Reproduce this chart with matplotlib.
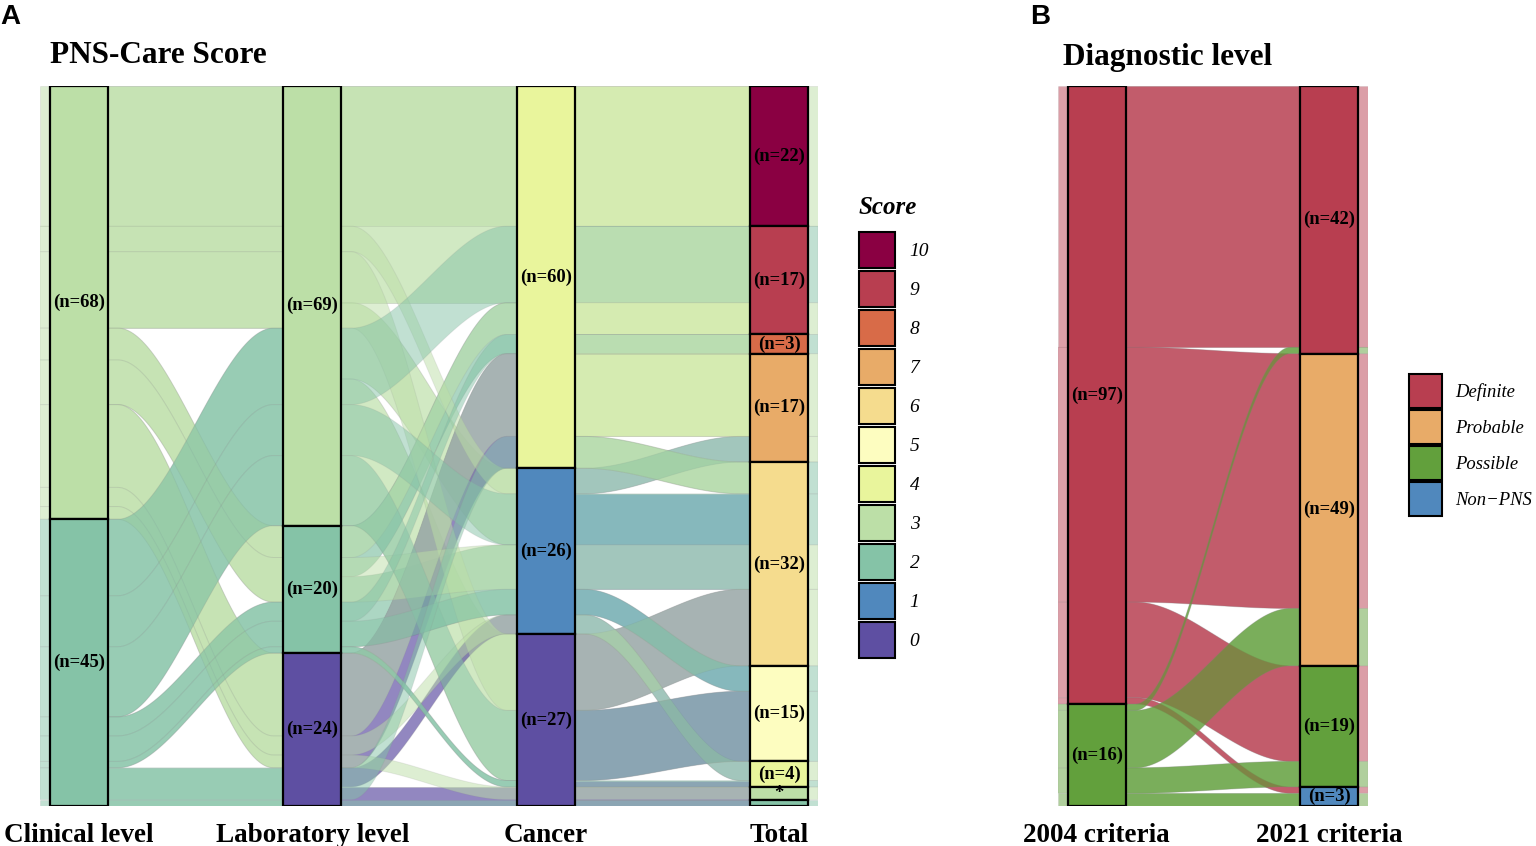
import numpy as np
import matplotlib
matplotlib.use("Agg")
import matplotlib.pyplot as plt
from matplotlib.patches import Rectangle, Polygon, Patch

SERIF = "Liberation Serif"
SANS = "Liberation Sans"

# ---------------- Panel A data ----------------
axis_names_A = ["Clinical level", "Laboratory level", "Cancer", "Total"]
clinical_levels = [3, 2]
lab_levels = [3, 2, 0]
cancer_levels = [4, 1, 0]
score_levels = [10, 9, 8, 7, 6, 5, 4, 3, 2, 1, 0]
score_colors = ["#8a0042", "#b83e50", "#d86b48", "#e8ab68", "#f5dc8e", "#fdfdc0",
                "#e9f59c", "#bcdfa7", "#85c3a7", "#5088bd", "#5e4fa2"]
total_levels = [10, 9, 8, 7, 6, 5, 4, 3, 2]

combo_clinical = [3, 3, 3, 3, 3, 3, 3, 3, 2, 2, 2, 2, 2, 2, 2, 2]
combo_lab      = [3, 3, 3, 2, 2, 0, 0, 0, 3, 3, 3, 2, 2, 2, 0, 0]
combo_cancer   = [4, 1, 0, 4, 1, 4, 1, 0, 4, 1, 0, 4, 1, 0, 4, 0]
combo_count    = [22, 4, 12, 5, 7, 13, 3, 2, 12, 8, 11, 3, 4, 1, 5, 1]

# ---------------- Panel B data ----------------
axis_names_B = ["2004 criteria", "2021 criteria"]
levels_2004 = ["Definite", "Possible"]
levels_2021 = ["Definite", "Probable", "Possible", "Non-PNS"]
diag_colors = {"Definite": "#b83e50", "Probable": "#e8ab68",
               "Possible": "#62a03c", "Non-PNS": "#5088bd"}
legend_labels_B = ["Definite", "Probable", "Possible", "Non\u2212PNS"]
flow_2004 = ["Definite", "Definite", "Definite", "Definite",
             "Possible", "Possible", "Possible", "Possible"]
flow_2021 = ["Definite", "Probable", "Possible", "Non-PNS",
             "Definite", "Probable", "Possible", "Non-PNS"]
flow_count = [41, 40, 15, 1, 1, 9, 4, 2]

WS = 0.25      # stratum width
WA = 1.0 / 3   # alluvium width
FLOW_ALPHA = 0.68
ALLUV_ALPHA = 0.5
EDGE_ALLUV = (0.55, 0.55, 0.55, 0.15)
EDGE_FLOW = (0.55, 0.55, 0.55, 0.25)


def sig(t):
    return t * t * (3 - 2 * t)


def line(segs):
    X, Y = [], []
    for j, (xa, xb, y) in enumerate(segs):
        if j > 0:
            pxa, pxb, py = segs[j - 1]
            t = np.linspace(0, 1, 80)[1:-1]
            X += list(pxb + (xa - pxb) * t)
            Y += list(py + (y - py) * sig(t))
        X += [xa, xb]
        Y += [y, y]
    return np.array(X), np.array(Y)


def band(ax, top_segs, bot_segs, fc, alpha, ec=None, z=1):
    xt, yt = line(top_segs)
    xb, yb = line(bot_segs)
    pts = np.column_stack([np.concatenate([xt, xb[::-1]]),
                           np.concatenate([yt, yb[::-1]])])
    rgba = matplotlib.colors.to_rgba(fc, alpha)
    p = Polygon(pts, closed=True, facecolor=rgba,
                edgecolor=ec if ec is not None else "none",
                linewidth=0.7 if ec is not None else 0, zorder=z)
    ax.add_patch(p)


def zigzag(i, n):
    order = []
    left, right = i - 1, i + 1
    go_left = i <= n - 1 - i
    while left >= 0 or right < n:
        if go_left:
            if left >= 0:
                order.append(left); left -= 1
            if right < n:
                order.append(right); right += 1
        else:
            if right < n:
                order.append(right); right += 1
            if left >= 0:
                order.append(left); left -= 1
    return order


def alluvial(ax, values, levels, counts, stratum_color, alluv_color, label_fs):
    n_ax = len(values)
    n_al = len(counts)
    rank = [{s: r for r, s in enumerate(lv)} for lv in levels]
    ytop = np.zeros((n_ax, n_al))
    ybot = np.zeros((n_ax, n_al))
    strata = []
    for i in range(n_ax):
        zz = zigzag(i, n_ax)
        order = sorted(range(n_al), key=lambda k: tuple(
            [rank[i][values[i][k]]] + [rank[j][values[j][k]] for j in zz]))
        y = 0.0
        for k in order:
            ytop[i, k] = y
            y += counts[k]
            ybot[i, k] = y
        y = 0.0
        for s in levels[i]:
            n = sum(c for c, v in zip(counts, values[i]) if v == s)
            if n > 0:
                strata.append((i, s, y, n))
            y += n
    xs = np.arange(1, n_ax + 1)
    # flows between adjacent axes (aggregated, colored by left stratum)
    for i in range(n_ax - 1):
        pairs = {}
        for k in range(n_al):
            key = (values[i][k], values[i + 1][k])
            pairs[key] = pairs.get(key, 0) + counts[k]
        keys = list(pairs.keys())
        left_order = sorted(keys, key=lambda p: (rank[i][p[0]], rank[i + 1][p[1]]))
        right_order = sorted(keys, key=lambda p: (rank[i + 1][p[1]], rank[i][p[0]]))
        lpos, rpos = {}, {}
        y = 0.0
        for p in left_order:
            lpos[p] = (y, y + pairs[p]); y += pairs[p]
        y = 0.0
        for p in right_order:
            rpos[p] = (y, y + pairs[p]); y += pairs[p]
        x0, x1 = xs[i], xs[i + 1]
        for p in keys:
            top = [(x0 + WS / 2, x0 + WA / 2, lpos[p][0]),
                   (x1 - WA / 2, x1 - WS / 2, rpos[p][0])]
            bot = [(x0 + WS / 2, x0 + WA / 2, lpos[p][1]),
                   (x1 - WA / 2, x1 - WS / 2, rpos[p][1])]
            band(ax, top, bot, stratum_color(i, p[0]), FLOW_ALPHA, ec=EDGE_FLOW, z=1)
    # alluvia (colored by first axis)
    for k in range(n_al):
        top = [(xs[i] - WA / 2, xs[i] + WA / 2, ytop[i, k]) for i in range(n_ax)]
        bot = [(xs[i] - WA / 2, xs[i] + WA / 2, ybot[i, k]) for i in range(n_ax)]
        band(ax, top, bot, alluv_color[k], ALLUV_ALPHA, ec=EDGE_ALLUV, z=2)
    # strata
    for i, s, y, n in strata:
        ax.add_patch(Rectangle((xs[i] - WS / 2, y), WS, n,
                               facecolor=stratum_color(i, s), edgecolor="black",
                               linewidth=1.6, zorder=3))
        lab = f"(n={n})" if n >= 3 else ("*" if n == 2 else "")
        if lab:
            ax.text(xs[i], y + n / 2, lab, ha="center", va="center",
                    fontsize=label_fs, fontweight="bold", family=SERIF, zorder=4)
    total = sum(counts)
    ax.set_xlim(1 - 1 / 6, n_ax + 1 / 6)
    ax.set_ylim(total, 0)
    ax.set_frame_on(False)
    ax.set_yticks([])
    ax.set_xticks(xs)
    ax.tick_params(axis="x", length=0, pad=12)


fig = plt.figure(figsize=(15.36, 8.46), dpi=100)
W, H = 1536, 846

# ---------------- Panel A ----------------
axA = fig.add_axes([40 / W, 40 / H, 778 / W, 720 / H])
combo_total = [c + l + k for c, l, k in zip(combo_clinical, combo_lab, combo_cancer)]
score_col = dict(zip(score_levels, score_colors))
alluvial(axA,
         [combo_clinical, combo_lab, combo_cancer, combo_total],
         [clinical_levels, lab_levels, cancer_levels, total_levels],
         combo_count,
         lambda i, s: score_col[s],
         [score_col[c] for c in combo_clinical],
         13.4)
axA.set_xticklabels(axis_names_A, fontsize=19.5, fontweight="bold", family=SERIF)

# ---------------- Panel B ----------------
axB = fig.add_axes([1058 / W, 40 / H, 310 / W, 720 / H])
alluvial(axB,
         [flow_2004, flow_2021],
         [levels_2004, levels_2021],
         flow_count,
         lambda i, s: diag_colors[s],
         [diag_colors[s] for s in flow_2004],
         13.4)
axB.set_xticklabels(axis_names_B, fontsize=19.5, fontweight="bold", family=SERIF)

# ---------------- Titles ----------------
fig.text(50 / W, 1 - 63 / H, "PNS-Care Score", fontsize=22.5, fontweight="bold",
         family=SERIF, va="baseline", ha="left")
fig.text(1063 / W, 1 - 65 / H, "Diagnostic level", fontsize=22.5, fontweight="bold",
         family=SERIF, va="baseline", ha="left")
fig.text(0 / W, 1 - 24 / H, "A", fontsize=20, fontweight="bold", family=SANS,
         va="baseline", ha="left")
fig.text(1030 / W, 1 - 24 / H, "B", fontsize=20, fontweight="bold", family=SANS,
         va="baseline", ha="left")

# ---------------- Legends ----------------
hA = [Patch(facecolor=c, edgecolor="black", linewidth=1.5) for c in score_colors]
legA = fig.legend(hA, [str(s) for s in score_levels], loc="upper left",
                  bbox_to_anchor=(859 / W, 1 - 196 / H), frameon=False,
                  borderpad=0, borderaxespad=0,
                  handlelength=1.85, handleheight=2.47, labelspacing=0.154,
                  handletextpad=0.75, alignment="left",
                  prop={"family": SERIF, "style": "italic", "size": 14},
                  title="Score",
                  title_fontproperties={"family": SERIF, "style": "italic",
                                        "weight": "bold", "size": 18})
legA._legend_box.sep = 9.5

hB = [Patch(facecolor=diag_colors[s], edgecolor="black", linewidth=1.5) for s in levels_2021]
legB = fig.legend(hB, legend_labels_B, loc="upper left",
                  bbox_to_anchor=(1409 / W, 1 - 374 / H), frameon=False,
                  borderpad=0, borderaxespad=0,
                  handlelength=1.77, handleheight=2.43, labelspacing=0.107,
                  handletextpad=0.7,
                  prop={"family": SERIF, "style": "italic", "size": 13.4})

fig.savefig("out.png", dpi=100)
